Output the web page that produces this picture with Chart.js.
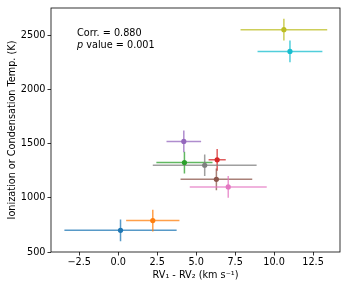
<!DOCTYPE html>
<html>
<head>
<meta charset="utf-8">
<script src="https://cdn.jsdelivr.net/npm/chart.js@4"></script>
<style>
  html, body { margin: 0; padding: 0; background: #fff; }
  #wrap { width: 349px; height: 291px; }
</style>
</head>
<body>
<div id="wrap"><canvas id="chart"></canvas></div>
<script>
// values
const xVals = [0.15, 2.22, 4.25, 6.35, 4.21, 6.30, 7.06, 5.55, 10.63, 11.02];
const yVals = [700, 790, 1325, 1350, 1520, 1170, 1100, 1300, 2550, 2350];
const xErr = [3.6, 1.71, 1.8, 0.55, 1.11, 2.3, 2.47, 3.33, 2.78, 2.08];
const yErr = [100, 100, 100, 100, 100, 100, 100, 100, 100, 100];
const colors = ['#1f77b4', '#ff7f0e', '#2ca02c', '#d62728', '#9467bd',
                '#8c564b', '#e377c2', '#7f7f7f', '#bcbd22', '#17becf'];
const xTicks = [-2.5, 0, 2.5, 5, 7.5, 10, 12.5];
const yTicks = [500, 1000, 1500, 2000, 2500];
const notes = ['Corr. = 0.880', 'value = 0.001'];

const FONT = 'DejaVu Sans';

function hexA(hex, a) {
    const n = parseInt(hex.slice(1), 16);
    return `rgba(${n >> 16}, ${(n >> 8) & 255}, ${n & 255}, ${a})`;
}

// error bars, drawn through the scales
const errorBars = {
    id: 'errorBars',
    beforeDatasetsDraw(chart) {
        const {ctx, scales: {x, y}} = chart;
        ctx.save();
        ctx.lineWidth = 1.5;
        xVals.forEach((v, i) => {
            ctx.strokeStyle = hexA(colors[i], 0.75);
            const py = y.getPixelForValue(yVals[i]);
            const px = x.getPixelForValue(v);
            ctx.beginPath();
            ctx.moveTo(x.getPixelForValue(v - xErr[i]), py);
            ctx.lineTo(x.getPixelForValue(v + xErr[i]), py);
            ctx.moveTo(px, y.getPixelForValue(yVals[i] - yErr[i]));
            ctx.lineTo(px, y.getPixelForValue(yVals[i] + yErr[i]));
            ctx.stroke();
        });
        ctx.restore();
    }
};

// axes box and annotation text
const frame = {
    id: 'frame',
    afterDraw(chart) {
        const {ctx, chartArea: a} = chart;
        ctx.save();
        ctx.strokeStyle = '#000';
        ctx.lineWidth = 0.8;
        ctx.strokeRect(a.left, a.top, a.right - a.left, a.bottom - a.top);
        ctx.fillStyle = '#000';
        ctx.textBaseline = 'middle';
        ctx.font = `9.7px "${FONT}"`;
        ctx.fillText(notes[0], a.left + 26, a.top + 25);
        ctx.font = `italic 9.7px "${FONT}"`;
        ctx.fillText('p', a.left + 26, a.top + 37);
        const w = ctx.measureText('p ').width;
        ctx.font = `9.7px "${FONT}"`;
        ctx.fillText(notes[1], a.left + 26 + w, a.top + 37);
        ctx.restore();
    }
};

const datasets = xVals.map((v, i) => ({
    data: [{x: v, y: yVals[i]}],
    backgroundColor: colors[i],
    borderColor: colors[i],
    pointRadius: 2.6,
    borderWidth: 0
}));

new Chart(document.getElementById('chart'), {
    type: 'scatter',
    data: {datasets},
    plugins: [errorBars, frame],
    options: {
        responsive: true,
        maintainAspectRatio: false,
        animation: false,
        layout: {padding: {left: 0, right: 9, top: 8, bottom: 0}},
        plugins: {legend: {display: false}, tooltip: {enabled: false}},
        scales: {
            x: {
                type: 'linear',
                min: -4.31,
                max: 14.23,
                afterBuildTicks: s => { s.ticks = xTicks.map(v => ({value: v})); },
                afterFit: s => { s.height = 39; },
                grid: {drawOnChartArea: false, drawTicks: true, tickLength: 3.5, color: '#000', lineWidth: 0.8},
                border: {display: false},
                ticks: {
                    color: '#000',
                    padding: 1,
                    maxRotation: 0,
                    font: {family: FONT, size: 9.7},
                    callback: v => v.toFixed(1).replace('-', '\u2212')
                },
                title: {
                    display: true,
                    text: 'RV\u2081 - RV\u2082 (km s\u207B\u00B9)',
                    color: '#000',
                    font: {family: FONT, size: 9.7},
                    padding: {top: 2, bottom: 9.5}
                }
            },
            y: {
                min: 500,
                max: 2750,
                afterBuildTicks: s => { s.ticks = yTicks.map(v => ({value: v})); },
                afterFit: s => { s.width = 51; },
                grid: {drawOnChartArea: false, drawTicks: true, tickLength: 3.5, color: '#000', lineWidth: 0.8},
                border: {display: false},
                ticks: {
                    color: '#000',
                    padding: 2,
                    font: {family: FONT, size: 9.7},
                    callback: v => String(v)
                },
                title: {
                    display: true,
                    text: 'Ionization or Condensation Temp. (K)',
                    color: '#000',
                    font: {family: FONT, size: 9.7},
                    padding: {top: 6.5, bottom: 0}
                }
            }
        }
    }
});
</script>
</body>
</html>
